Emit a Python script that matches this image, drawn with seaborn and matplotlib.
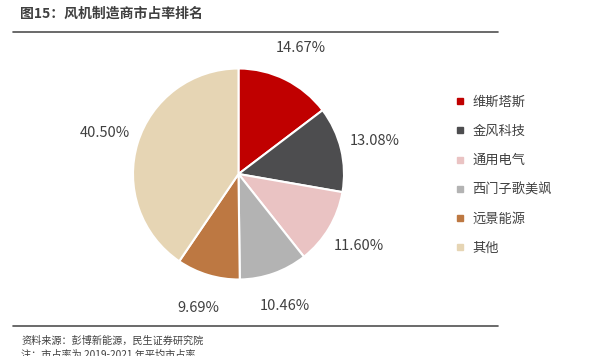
import matplotlib
matplotlib.use("Agg")
import matplotlib.pyplot as plt
from matplotlib.lines import Line2D
import seaborn as sns

companies = ["维斯塔斯", "金风科技", "通用电气", "西门子歌美飒", "远景能源", "其他"]
shares = [14.67, 13.08, 11.60, 10.46, 9.69, 40.50]
colors = ["#C00000", "#4D4D4F", "#EAC3C3", "#B3B3B3", "#BD7842", "#E6D5B4"]
title = "图15：风机制造商市占率排名"
source = "资料来源：彭博新能源，民生证券研究院"
note = "注：市占率为 2019-2021 年平均市占率"

sns.set_theme(style="white")
plt.rcParams['font.family'] = ['Noto Sans CJK SC', 'DejaVu Sans']

W, H = 616, 356
fig = plt.figure(figsize=(W / 100, H / 100), dpi=100)
fig.patch.set_facecolor("white")

palette = sns.color_palette(colors)

# pie axes: center (238.5, 174) px from top-left, radius 105.5 px, limits +/-1.5
r = 105.5
lim = 1.5
cx, cy = 238.5, 174
ax = fig.add_axes([(cx - r * lim) / W, (H - cy - r * lim) / H, 2 * r * lim / W, 2 * r * lim / H])
wedges, texts, autotexts = ax.pie(
    shares, colors=palette, startangle=90, counterclock=False,
    autopct=lambda p: f"{p:.2f}%", pctdistance=1.33,
    wedgeprops=dict(edgecolor="white", linewidth=1.5),
    textprops=dict(color="#404040", fontsize=10.5),
)
ax.set_xlim(-lim, lim)
ax.set_ylim(-lim, lim)
ax.set_aspect("equal")
ax.axis("off")

handles = [Line2D([0], [0], marker="s", linestyle="none", markersize=5,
                  markerfacecolor=c, markeredgecolor=c) for c in palette]
fig.legend(handles, companies, loc="upper left", bbox_to_anchor=(455 / W, 1 - 96 / H),
           frameon=False, fontsize=9.5, labelcolor="#404040", handlelength=0.8,
           handletextpad=0.5, labelspacing=1.22, borderaxespad=0, borderpad=0)

# title and rules
fig.text(20 / W, 1 - 14 / H, title, fontsize=10, fontweight="bold", color="#3F3F3F",
         va="center", ha="left")
fig.add_artist(Line2D([13 / W, 498 / W], [1 - 31.5 / H, 1 - 31.5 / H], color="#505050", linewidth=1.2))
fig.add_artist(Line2D([13 / W, 498 / W], [1 - 326 / H, 1 - 326 / H], color="#505050", linewidth=1.2))
fig.text(21 / W, 1 - 341 / H, source, fontsize=7.3, color="#404040", va="center", ha="left")
fig.text(21 / W, 1 - 350 / H, note, fontsize=7.3, color="#404040", va="top", ha="left")

fig.savefig("out.png", dpi=100, facecolor="white")
